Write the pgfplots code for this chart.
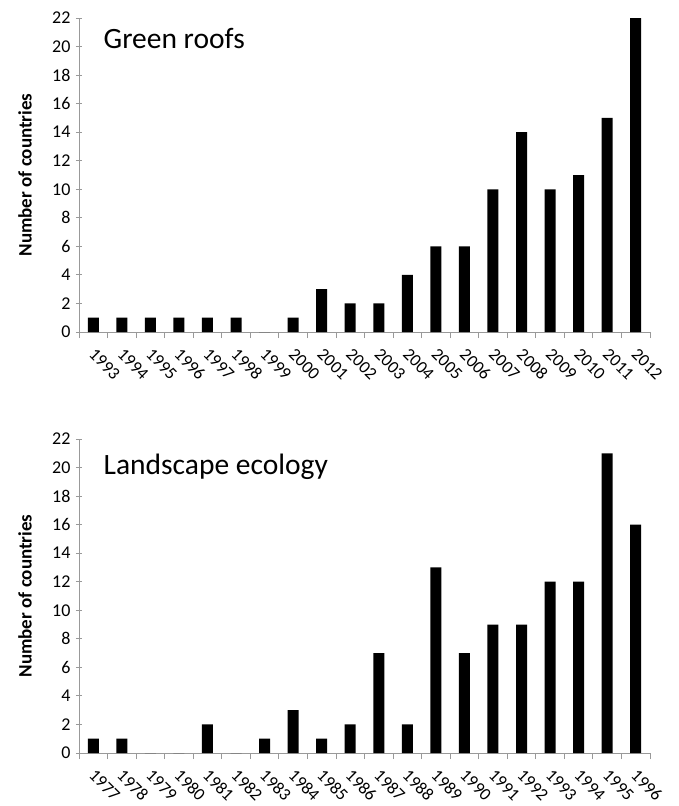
\documentclass[border=0pt]{standalone}
\usepackage{pgfplots}
\pgfplotsset{compat=1.18}
\usepackage{fontspec}
\setmainfont{Carlito}
\pgfplotsset{
  mystyle/.style={
    scale only axis, width=571pt, height=314pt,
    xmin=-0.5, xmax=19.5, ymin=0, ymax=22,
    ytick={0,2,...,22},
    xtick={0,...,19},
    minor xtick={-0.5,0.5,...,19.5},
    major x tick style={draw=none},
    minor tick length=6pt,
    major tick length=6pt,
    tick align=outside,
    axis x line=bottom, axis y line=left,
    axis line style={-, draw=gray!80, line width=0.9pt},
    every tick/.style={draw=gray!80, line width=0.9pt},
    minor tick style={draw=gray!80, line width=0.9pt},
    /pgf/number format/assume math mode=true,
    ticklabel style={font=\fontsize{18}{20}\selectfont},
    yticklabel style={xshift=-2pt},
    xticklabel style={rotate=-45, anchor=north west, inner sep=0.5pt, xshift=8pt, yshift=-4pt, font=\fontsize{17.5}{19}\selectfont},
    ylabel={\textbf{Number of countries}},
    ylabel style={at={(axis description cs:-0.0946,0.5)}, anchor=center, font=\fontsize{19}{22}\selectfont},
    ybar, bar width=11pt,
  }
}
\begin{document}
\begin{tikzpicture}
\path (-79pt,-474pt) rectangle (599pt,332pt);
\begin{axis}[mystyle, at={(0pt,0pt)}, anchor=south west,
  xticklabels={1993,1994,1995,1996,1997,1998,1999,2000,2001,2002,2003,2004,2005,2006,2007,2008,2009,2010,2011,2012}]
\addplot[fill=black, draw=none] coordinates {(0,1)(1,1)(2,1)(3,1)(4,1)(5,1)(6,0)(7,1)(8,3)(9,2)(10,2)(11,4)(12,6)(13,6)(14,10)(15,14)(16,10)(17,11)(18,15)(19,22)};
\node[anchor=base west, font=\fontsize{29.5}{32}\selectfont] at (rel axis cs:0.037,0.904) {Green roofs};
\end{axis}
\begin{axis}[mystyle, at={(0pt,-421pt)}, anchor=south west,
  xticklabels={1977,1978,1979,1980,1981,1982,1983,1984,1985,1986,1987,1988,1989,1990,1991,1992,1993,1994,1995,1996}]
\addplot[fill=black, draw=none] coordinates {(0,1)(1,1)(2,0)(3,0)(4,2)(5,0)(6,1)(7,3)(8,1)(9,2)(10,7)(11,2)(12,13)(13,7)(14,9)(15,9)(16,12)(17,12)(18,21)(19,16)};
\node[anchor=base west, font=\fontsize{29.5}{32}\selectfont] at (rel axis cs:0.037,0.888) {Landscape ecology};
\end{axis}
\end{tikzpicture}
\end{document}
